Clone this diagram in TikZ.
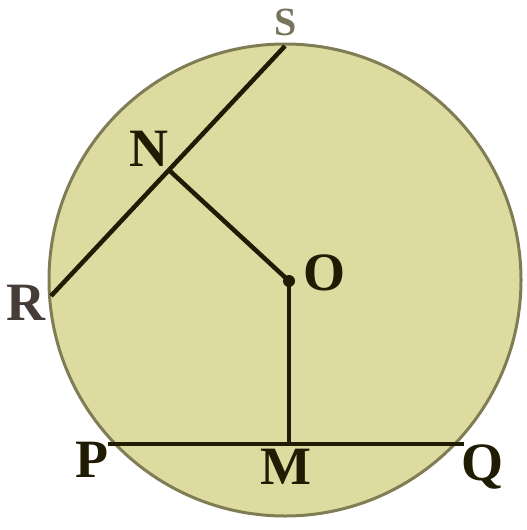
\documentclass[tikz,border=0pt]{standalone}
\usepackage{fontspec}
\setmainfont{Liberation Serif}
\definecolor{ink}{RGB}{32,28,4}
\definecolor{diskfill}{RGB}{221,219,160}
\definecolor{diskedge}{RGB}{128,124,84}
\definecolor{sgray}{RGB}{120,116,90}
\definecolor{rgray}{RGB}{70,60,55}
\begin{document}
\begin{tikzpicture}[x=1pt,y=-1pt,
  seg/.style={line width=4.5pt, draw=ink},
  lbl/.style={font=\fontsize{54}{54}\selectfont\bfseries, text=ink, inner sep=0pt}]
\useasboundingbox (0,0) rectangle (527,530);
\fill[diskfill, draw=diskedge, line width=3pt] (285,280) circle (236);
\coordinate (O) at (289,281);
\coordinate (S) at (285,46);
\coordinate (R) at (51,296);
\coordinate (N) at (170,171);
\coordinate (M) at (289,444);
\coordinate (P) at (108,444);
\coordinate (Q) at (464,444);
\draw[seg] (R) -- (S);
\draw[seg] (N) -- (O);
\draw[seg] (O) -- (M);
\draw[seg] (P) -- (Q);
\fill[ink] (O) circle (6);
\node[lbl, text=sgray, font=\fontsize{40}{40}\selectfont\bfseries] (Sl) at (286,22) {S};
\node[lbl] (Nl) at (149,149) {N};
\node[lbl] (Ol) at (324,273) {O};
\node[lbl, text=rgray] (Rl) at (26,303) {R};
\node[lbl] (Ml) at (286,467) {M};
\node[lbl] (Pl) at (92,460) {P};
\node[lbl] (Ql) at (482,467) {Q};
\end{tikzpicture}
\end{document}
